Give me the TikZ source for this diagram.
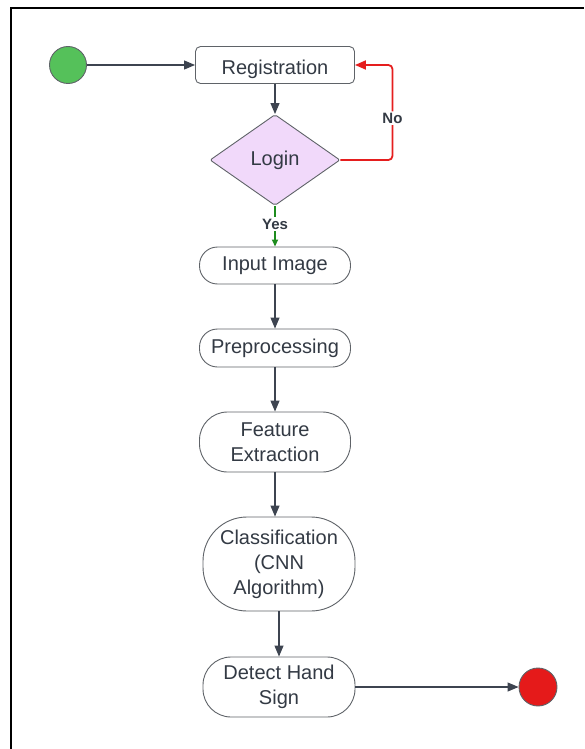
\documentclass[tikz,border=0pt]{standalone}
\usepackage{fontspec}
\setmainfont{Liberation Sans}
\usetikzlibrary{arrows.meta,shapes.geometric}
\definecolor{txt}{HTML}{333A44}
\definecolor{edge}{HTML}{5F6368}
\definecolor{arrowc}{HTML}{3D4450}
\definecolor{startgreen}{HTML}{55C15A}
\definecolor{endred}{HTML}{E51A1A}
\definecolor{loginfill}{HTML}{F1D9FA}
\definecolor{nored}{HTML}{E51E1E}
\definecolor{yesgreen}{HTML}{1E8C1E}
\tikzset{
  lbl/.style={font=\fontsize{20}{25}\selectfont, text=txt, align=center},
  box/.style={lbl, draw=edge, line width=0.9pt, fill=white, inner sep=0pt},
  pill/.style={box, minimum width=151, minimum height=37, rounded corners=18},
  blob/.style={circle, draw=edge, line width=0.9pt, minimum size=37, inner sep=0pt},
  arr/.style={draw=arrowc, line width=1.1pt, -{Triangle[length=11pt,width=9pt]}},
  tag/.style={font=\bfseries\fontsize{15}{18}\selectfont, text=txt, fill=white, inner sep=1.5pt}
}
\begin{document}
\begin{tikzpicture}[x=1pt,y=-1pt]
\useasboundingbox (0,0) rectangle (584,749);
% frame
\draw[line width=2pt, black] (11,749) -- (11,8) -- (584,8);

% nodes
\node[blob, fill=startgreen] (start) at (68,65) {};
\node[box, minimum width=159, minimum height=37, rounded corners=5, text height=20, text depth=0] (reg) at (275,65) {Registration};
\node[lbl, diamond, draw=edge, line width=0.9pt, fill=loginfill, minimum width=130, minimum height=91, inner sep=0pt, rounded corners=2] (login) at (275,160) {Login};
\node[pill] (inp) at (275,265.5) {Input Image};
\node[pill, minimum height=38] (pre) at (275,348) {Preprocessing};
\node[pill, minimum height=60, rounded corners=28] (fe) at (275,442) {Feature\\Extraction};
\node[pill, minimum width=152, minimum height=94, rounded corners=44] (cls) at (279,564) {Classification\\(CNN\\Algorithm)};
\node[pill, minimum width=152, minimum height=60, rounded corners=28] (det) at (279,687) {Detect Hand\\Sign};
\node[blob, fill=endred, minimum size=38] (end) at (538,687) {};

% connectors
\draw[arr] (start) -- (reg);
\draw[arr] (reg) -- (login);
\draw[draw=nored, line width=1.8pt, rounded corners=4, -{Triangle[length=11pt,width=9pt]}, color=nored]
  (login.east) -- ++(52,0) |- node[tag, pos=0.22] {No} (reg.east);
\draw[draw=yesgreen, line width=1.8pt, -{Triangle[length=7pt,width=6pt]}, color=yesgreen]
  (login.south) -- node[tag, pos=0.45] {Yes} (inp.north);
\draw[arr] (inp) -- (pre);
\draw[arr] (pre) -- (fe);
\draw[arr] (fe.south) -- (fe.south |- cls.north);
\draw[arr] (cls) -- (det);
\draw[arr] (det) -- (end);
\end{tikzpicture}
\end{document}
